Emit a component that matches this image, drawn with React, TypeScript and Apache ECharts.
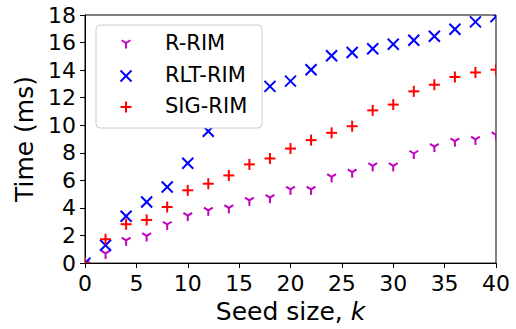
import React, { useEffect, useRef } from "react";
import * as echarts from "echarts";

const kValues = [0, 2, 4, 6, 8, 10, 12, 14, 16, 18, 20, 22, 24, 26, 28, 30, 32, 34, 36, 38, 40];
const rRim = [0, 0.7, 1.65, 1.97, 2.8, 3.45, 3.83, 4.0, 4.55, 4.75, 5.35, 5.35, 6.25, 6.6, 7.05, 7.05, 7.95, 8.45, 8.85, 8.97, 9.3];
const rltRim = [0, 1.3, 3.4, 4.43, 5.52, 7.25, 9.57, 10.8, 11.9, 12.82, 13.2, 14.03, 15.04, 15.28, 15.55, 15.88, 16.17, 16.46, 16.97, 17.5, 17.88];
const sigRim = [0, 1.73, 2.82, 3.13, 4.07, 5.28, 5.76, 6.36, 7.16, 7.59, 8.31, 8.92, 9.45, 9.93, 11.08, 11.5, 12.46, 12.94, 13.5, 13.83, 14.03];

const seriesNames = ["R-RIM", "RLT-RIM", "SIG-RIM"];
const seriesValues = [rRim, rltRim, sigRim];
const seriesColors = ["#bf00bf", "#0000ff", "#ff0000"];
const markerKinds = ["tri", "x", "plus"];

const xTitle = "Seed size, ";
const xTitleItalic = "k";
const yTitle = "Time (ms)";

const FONT = "DejaVu Sans";
const R = 5.5;
const LW = 2;

function markerSegments(kind: string, cx: number, cy: number, r: number) {
  if (kind === "x") {
    return [
      { x1: cx - r, y1: cy - r, x2: cx + r, y2: cy + r },
      { x1: cx - r, y1: cy + r, x2: cx + r, y2: cy - r },
    ];
  }
  if (kind === "plus") {
    return [
      { x1: cx - r, y1: cy, x2: cx + r, y2: cy },
      { x1: cx, y1: cy - r, x2: cx, y2: cy + r },
    ];
  }
  return [
    { x1: cx, y1: cy, x2: cx, y2: cy + r },
    { x1: cx, y1: cy, x2: cx + 0.8 * r, y2: cy - 0.5 * r },
    { x1: cx, y1: cy, x2: cx - 0.8 * r, y2: cy - 0.5 * r },
  ];
}

export default function App() {
  const ref = useRef<HTMLDivElement>(null);

  useEffect(() => {
    if (!ref.current) return;
    const chart = echarts.init(ref.current, null, { renderer: "svg" });

    const series = seriesNames.map((name, si) => ({
      type: "custom",
      name,
      clip: true,
      z: 2 + si,
      data: kValues.map((k, i) => [k, seriesValues[si][i]]),
      renderItem: (params: any, api: any) => {
        const p = api.coord([api.value(0), api.value(1)]);
        return {
          type: "group",
          children: markerSegments(markerKinds[si], p[0], p[1], R).map((s) => ({
            type: "line",
            shape: s,
            style: { stroke: seriesColors[si], lineWidth: LW },
          })),
        };
      },
    }));

    const legendRows = [43, 76, 107];
    const textRows = [42.5, 75, 106];
    const graphic: any[] = [
      {
        type: "rect",
        z: 100,
        shape: { x: 96, y: 25, width: 166, height: 103, r: 4 },
        style: { fill: "#ffffff", stroke: "#cccccc", lineWidth: 1 },
      },
    ];
    seriesNames.forEach((name, si) => {
      markerSegments(markerKinds[si], 126, legendRows[si], R).forEach((s) =>
        graphic.push({
          type: "line",
          z: 101,
          shape: s,
          style: { stroke: seriesColors[si], lineWidth: LW },
        })
      );
      graphic.push({
        type: "text",
        z: 101,
        x: 165,
        y: textRows[si],
        style: {
          text: name,
          fontSize: 21,
          fontFamily: FONT,
          fill: "#000",
          align: "left",
          verticalAlign: "middle",
        },
      });
    });

    const axisCommon = {
      type: "value",
      axisLine: { show: true, lineStyle: { color: "#000", width: 1 } },
      axisTick: { show: true, length: 5, inside: false, lineStyle: { color: "#000", width: 1 } },
      splitLine: { show: false },
      nameLocation: "middle",
    };

    chart.setOption({
      animation: false,
      grid: {
        left: 85,
        right: 20,
        top: 15,
        bottom: 65,
        show: true,
        borderColor: "#000",
        borderWidth: 1,
        backgroundColor: "transparent",
      },
      xAxis: {
        ...axisCommon,
        min: 0,
        max: 40,
        interval: 5,
        axisLabel: { fontSize: 22, color: "#000", fontFamily: FONT, margin: 9 },
        name: `{a|${xTitle}}{b|${xTitleItalic}}`,
        nameGap: 34,
        nameTextStyle: {
          fontSize: 25,
          fontFamily: FONT,
          color: "#000",
          rich: {
            a: { fontSize: 25, fontFamily: FONT, color: "#000" },
            b: { fontSize: 25, fontFamily: FONT, color: "#000", fontStyle: "italic" },
          },
        },
      },
      yAxis: {
        ...axisCommon,
        min: 0,
        max: 18,
        interval: 2,
        axisLabel: { fontSize: 22, color: "#000", fontFamily: FONT, margin: 9 },
        name: yTitle,
        nameGap: 48,
        nameTextStyle: { fontSize: 25, fontFamily: FONT, color: "#000" },
      },
      series,
      graphic,
    });

    return () => chart.dispose();
  }, []);

  return (
    <div
      ref={ref}
      style={{ position: "fixed", left: 0, top: 0, width: 516, height: 329, background: "#fff" }}
    />
  );
}
